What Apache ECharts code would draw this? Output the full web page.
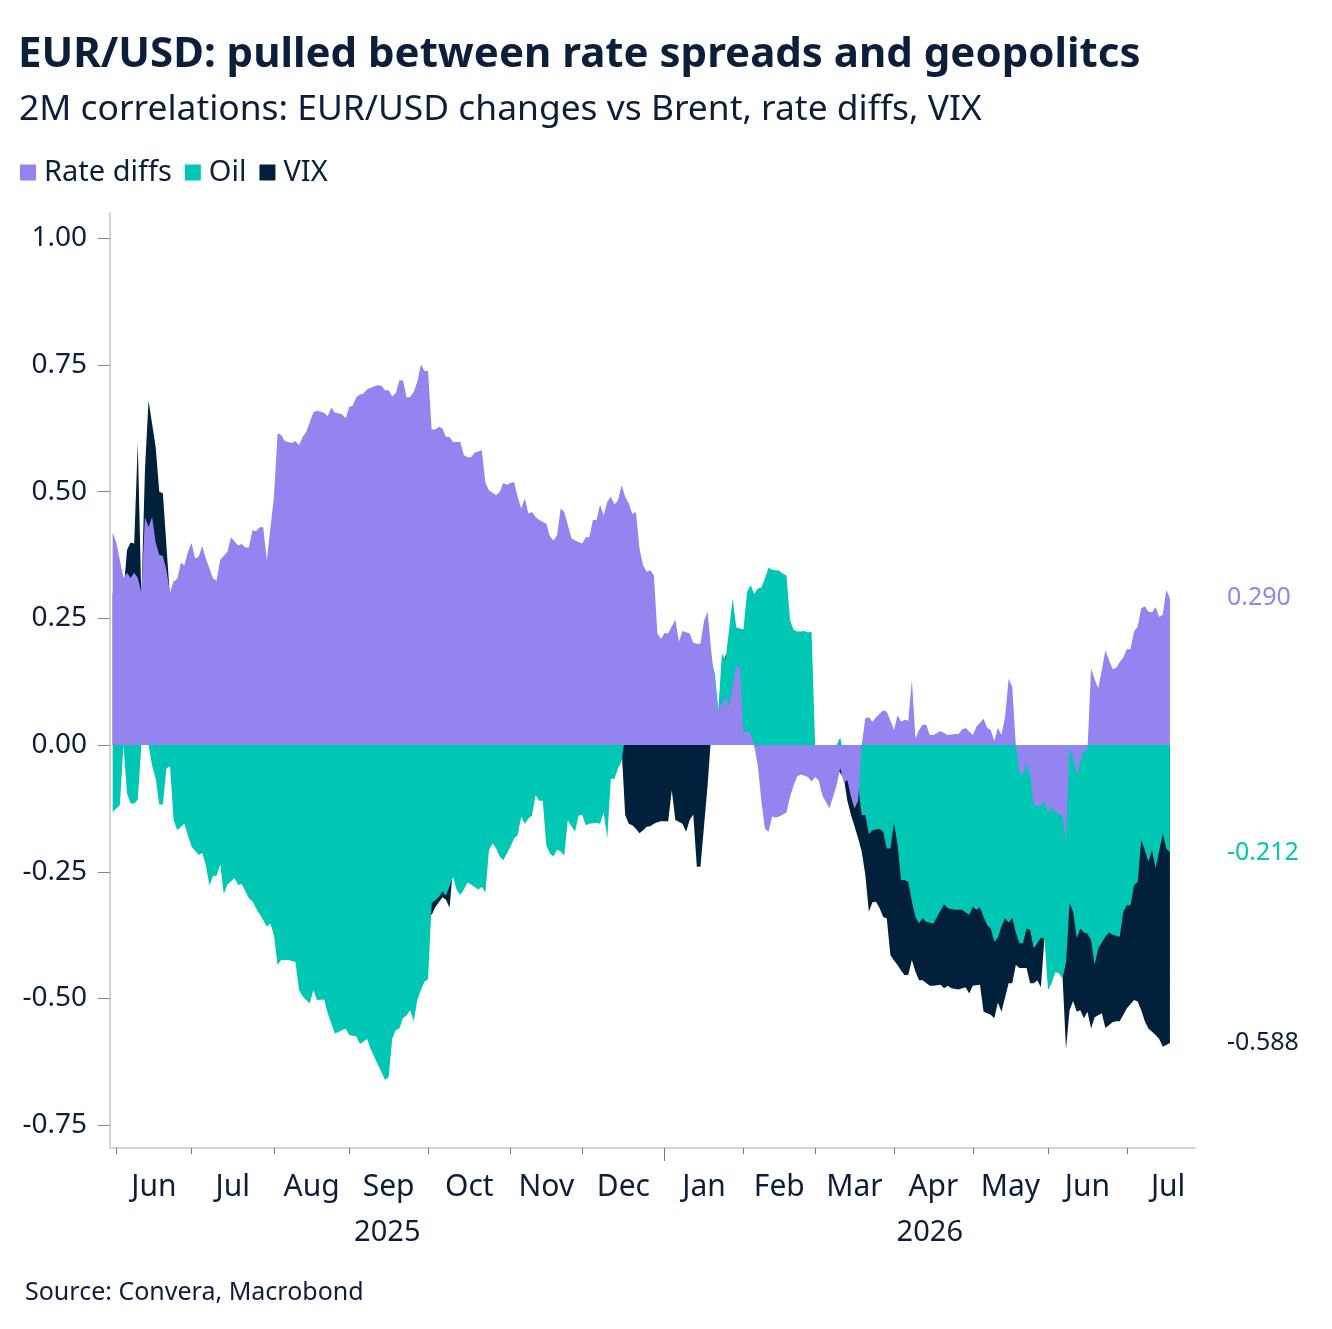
<!DOCTYPE html>
<html>
<head>
<meta charset="utf-8">
<script src="https://cdn.jsdelivr.net/npm/echarts@6/dist/echarts.min.js"></script>
<style>
html,body{margin:0;padding:0;background:#fff}
#main{width:1332px;height:1329px}
</style>
</head>
<body>
<div id="main"></div>
<script>
// x = business days counted from Mon 2 Jun 2025, y = 2M correlation
const rateDiffs = [[-1,.42],[0,.40],[2,.33],[3,.34],[4,.33],[5,.34],[6,.33],[7,.30],[8,.45],[9,.43],[10,.45],[11,.40],[12,.375],[13,.373],[14,.345],[15,.30],[16,.324],[17,.326],[18,.36],[19,.355],[20,.381],[21,.399],[22,.368],[23,.372],[24,.393],[25,.368],[27,.329],[28,.325],[29,.366],[31,.381],[32,.41],[34,.394],[35,.397],[36,.39],[37,.39],[38,.424],[39,.422],[40,.43],[41,.43],[42,.365],[44,.49],[45,.615],[46,.612],[47,.60],[49,.596],[50,.60],[51,.592],[52,.608],[53,.618],[55,.657],[56,.66],[58,.656],[59,.649],[60,.666],[61,.656],[62,.655],[63,.653],[64,.645],[65,.667],[66,.67],[67,.687],[68,.692],[69,.694],[70,.702],[72,.708],[73,.71],[74,.709],[75,.70],[76,.70],[77,.688],[78,.695],[79,.72],[80,.72],[81,.686],[82,.687],[83,.697],[84,.717],[85,.751],[86,.738],[87,.738],[88,.623],[89,.623],[90,.628],[91,.625],[92,.608],[93,.608],[94,.598],[96,.598],[97,.572],[98,.568],[99,.568],[100,.577],[102,.582],[103,.517],[104,.503],[106,.493],[107,.50],[108,.517],[109,.514],[110,.517],[111,.519],[112,.49],[113,.467],[114,.487],[115,.457],[116,.46],[117,.45],[118,.444],[120,.437],[121,.412],[122,.404],[123,.414],[124,.467],[125,.46],[127,.408],[128,.404],[130,.398],[131,.41],[132,.41],[133,.444],[134,.444],[135,.475],[136,.453],[137,.48],[138,.49],[139,.475],[140,.483],[141,.513],[142,.49],[143,.477],[144,.456],[145,.46],[146,.388],[147,.355],[148,.342],[149,.345],[150,.335],[151,.22],[152,.21],[153,.221],[154,.22],[156,.248],[157,.204],[158,.225],[160,.22],[161,.202],[162,.20],[163,.20],[164,.245],[165,.263],[166,.187],[167,.122],[168,.068],[170,.095],[171,.076],[173,.156],[174,.156],[175,.024],[176,.028],[177,.022],[178,0],[179,-.04],[180,-.11],[181,-.165],[182,-.171],[183,-.141],[184,-.143],[185,-.141],[187,-.133],[188,-.102],[189,-.079],[190,-.062],[191,-.058],[193,-.063],[194,-.072],[195,-.063],[196,-.07],[197,-.099],[199,-.125],[200,-.102],[201,-.079],[202,-.045],[203,-.075],[204,-.069],[205,-.102],[206,-.125],[207,-.11],[208,0],[209,.053],[210,.055],[211,.046],[212,.055],[214,.069],[215,.066],[216,.049],[217,.03],[218,.059],[219,.046],[220,.05],[221,.048],[222,.128],[223,.013],[224,.03],[225,.04],[226,.04],[227,.02],[228,.02],[230,.028],[232,.02],[234,.022],[235,.022],[236,.031],[237,.034],[239,.02],[240,.036],[241,.044],[242,.052],[243,.034],[244,.03],[245,.008],[246,.034],[247,.02],[248,.056],[249,.131],[250,.115],[251,0],[252,-.055],[253,-.058],[254,-.036],[255,-.06],[256,-.118],[257,-.121],[258,-.118],[259,-.112],[260,-.135],[261,-.121],[262,-.133],[263,-.135],[264,-.14],[265,-.19],[266,-.005],[267,-.026],[268,-.06],[269,-.033],[270,-.01],[271,-.01],[272,.151],[273,.13],[274,.112],[275,.148],[276,.187],[277,.168],[278,.15],[279,.152],[280,.164],[281,.173],[282,.189],[283,.189],[284,.224],[285,.234],[286,.27],[287,.274],[288,.263],[289,.262],[290,.272],[291,.253],[292,.257],[293,.306],[294,.29]];

const oil = [[-1,-.132],[0,-.125],[1,-.118],[2,0],[3,-.095],[4,-.115],[5,-.115],[6,-.108],[7,0],[8,0],[9,0],[10,-.04],[11,-.066],[12,-.117],[13,-.117],[14,-.046],[15,-.041],[16,-.148],[17,-.168],[19,-.155],[20,-.178],[21,-.20],[23,-.217],[24,-.213],[25,-.237],[26,-.277],[27,-.258],[28,-.258],[29,-.235],[30,-.294],[31,-.275],[33,-.262],[34,-.276],[35,-.274],[37,-.302],[38,-.308],[39,-.322],[41,-.345],[42,-.358],[43,-.352],[44,-.375],[45,-.434],[46,-.424],[48,-.424],[50,-.428],[51,-.483],[52,-.496],[54,-.51],[55,-.483],[56,-.503],[58,-.502],[59,-.529],[61,-.569],[62,-.566],[64,-.559],[65,-.572],[67,-.575],[68,-.59],[69,-.585],[70,-.58],[71,-.60],[72,-.615],[73,-.63],[74,-.645],[75,-.661],[76,-.655],[77,-.579],[78,-.562],[79,-.559],[80,-.539],[81,-.533],[82,-.523],[83,-.545],[84,-.503],[85,-.483],[86,-.467],[87,-.462],[88,-.312],[89,-.306],[90,-.30],[91,-.289],[92,-.297],[94,-.26],[95,-.286],[96,-.296],[97,-.285],[98,-.271],[99,-.275],[101,-.285],[102,-.28],[103,-.291],[104,-.207],[105,-.194],[106,-.204],[107,-.22],[108,-.227],[110,-.20],[111,-.184],[112,-.178],[113,-.141],[114,-.155],[115,-.145],[116,-.139],[117,-.099],[118,-.11],[119,-.11],[120,-.197],[121,-.214],[122,-.22],[123,-.206],[124,-.21],[125,-.218],[126,-.148],[127,-.16],[128,-.171],[129,-.139],[130,-.137],[131,-.158],[132,-.155],[134,-.153],[135,-.155],[136,-.133],[137,-.184],[138,-.066],[139,-.067],[140,-.046],[141,-.032],[142,.02],[145,.05],[150,.08],[155,.10],[160,.12],[164,.15],[166,.168],[167,.142],[168,.07],[169,.181],[170,.168],[172,.289],[173,.232],[174,.23],[175,.228],[176,.302],[177,.316],[178,.298],[179,.309],[180,.311],[181,.329],[182,.35],[183,.346],[184,.345],[185,.344],[186,.338],[187,.335],[188,.247],[189,.227],[190,.224],[191,.224],[192,.225],[193,.222],[194,.224],[195,0],[196,-.02],[198,-.03],[200,-.02],[201,0],[202,.015],[203,-.02],[205,-.04],[207,-.08],[208,-.138],[209,-.138],[210,-.176],[211,-.168],[213,-.165],[214,-.171],[215,-.204],[216,-.204],[217,-.153],[218,-.197],[219,-.266],[220,-.266],[221,-.27],[222,-.309],[223,-.339],[224,-.352],[225,-.341],[226,-.349],[228,-.352],[229,-.339],[231,-.314],[232,-.322],[234,-.325],[236,-.325],[238,-.335],[239,-.319],[240,-.325],[241,-.32],[242,-.339],[243,-.355],[244,-.362],[245,-.388],[246,-.38],[247,-.358],[248,-.342],[249,-.35],[250,-.341],[251,-.37],[252,-.391],[253,-.391],[254,-.362],[255,-.365],[256,-.401],[257,-.391],[258,-.38],[259,-.382],[260,-.483],[261,-.47],[262,-.448],[263,-.45],[264,-.46],[265,-.43],[266,-.312],[267,-.329],[268,-.381],[269,-.362],[270,-.37],[271,-.372],[272,-.385],[273,-.434],[274,-.401],[276,-.378],[277,-.37],[278,-.374],[280,-.378],[281,-.329],[282,-.316],[283,-.316],[284,-.276],[285,-.27],[286,-.187],[287,-.207],[288,-.23],[289,-.207],[290,-.243],[291,-.21],[292,-.174],[293,-.204],[294,-.212]];

const vix = [[-1,.30],[0,.30],[2,.30],[3,.385],[4,.40],[5,.398],[6,.596],[7,.29],[8,.542],[9,.68],[11,.588],[12,.50],[13,.497],[15,.29],[17,.33],[19,.25],[25,.20],[35,.10],[45,0],[55,-.10],[65,-.20],[75,-.25],[85,-.30],[88,-.335],[89,-.32],[90,-.31],[91,-.30],[92,-.305],[93,-.321],[94,-.24],[97,-.20],[103,-.15],[110,-.10],[120,-.05],[130,-.05],[137,-.03],[140,-.02],[141,-.005],[142,-.138],[143,-.155],[144,-.158],[145,-.165],[146,-.174],[147,-.168],[148,-.161],[149,-.16],[150,-.155],[151,-.152],[152,-.15],[154,-.15],[155,-.089],[156,-.148],[158,-.155],[159,-.171],[160,-.148],[161,-.137],[162,-.24],[163,-.24],[164,-.16],[165,-.079],[166,.02],[168,.05],[170,.18],[172,.10],[175,.05],[178,0],[179,-.02],[185,-.04],[195,-.03],[200,-.04],[202,-.055],[203,-.065],[204,-.11],[205,-.138],[206,-.16],[207,-.184],[208,-.21],[209,-.256],[210,-.329],[211,-.31],[212,-.309],[213,-.322],[214,-.339],[215,-.342],[216,-.414],[217,-.425],[218,-.434],[219,-.445],[220,-.454],[221,-.453],[222,-.424],[223,-.447],[224,-.464],[225,-.464],[227,-.475],[228,-.475],[230,-.473],[231,-.48],[232,-.475],[233,-.48],[235,-.482],[237,-.478],[238,-.49],[239,-.475],[241,-.473],[242,-.526],[244,-.532],[245,-.539],[246,-.508],[247,-.526],[249,-.47],[250,-.47],[251,-.434],[252,-.44],[254,-.44],[255,-.47],[256,-.47],[257,-.464],[258,-.478],[259,-.38],[261,-.40],[263,-.42],[264,-.45],[265,-.60],[266,-.523],[267,-.505],[268,-.526],[269,-.523],[270,-.539],[271,-.526],[272,-.559],[273,-.537],[275,-.529],[276,-.558],[278,-.547],[279,-.545],[280,-.545],[282,-.519],[284,-.503],[285,-.506],[286,-.523],[287,-.545],[288,-.559],[290,-.572],[291,-.58],[292,-.595],[293,-.592],[294,-.588]];

const monthNames = ['Jun','Jul','Aug','Sep','Oct','Nov','Dec','Jan','Feb','Mar','Apr','May','Jun','Jul'];
const yearNames = ['2025','2026'];
const yTicks = [-0.75, -0.5, -0.25, 0, 0.25, 0.5, 0.75, 1];

const navy = '#0b1f3b';
const purple = '#9384f0';
const teal = '#00c6b4';
const dark = '#00203b';
const font = 'Noto Sans';

// business-day index of the first trading day of each month
const monthStarts = [];
(function () {
  let t = Date.UTC(2025, 5, 2), n = 0, m = -1;
  const end = Date.UTC(2026, 7, 5);
  while (t < end) {
    const d = new Date(t);
    const wd = d.getUTCDay();
    if (wd !== 0 && wd !== 6) {
      if (d.getUTCMonth() !== m) { monthStarts.push(n); m = d.getUTCMonth(); }
      n++;
    }
    t += 86400000;
  }
})();

const xMin = -1.75, xMax = 301;
const tickPos = monthStarts.slice(0, 14);
const labelPos = [];
for (let i = 0; i < 14; i++) labelPos.push((monthStarts[i] + monthStarts[i + 1]) / 2);
const yearStart = monthStarts[7];
const yearPos = [(xMin + yearStart) / 2, (yearStart + xMax) / 2];

function area(name, data, color, z) {
  return {
    name: name,
    type: 'line',
    data: data,
    z: z,
    color: color,
    symbol: 'none',
    showSymbol: false,
    lineStyle: { width: 0, color: color },
    itemStyle: { color: color },
    areaStyle: { color: color, opacity: 1 },
    endLabel: {
      show: true,
      distance: 57,
      color: color === dark ? navy : color,
      fontFamily: font,
      fontSize: 25,
      formatter: p => p.value[1].toFixed(3)
    }
  };
}

const chart = echarts.init(document.getElementById('main'));
chart.setOption({
  animation: false,
  backgroundColor: '#ffffff',
  textStyle: { fontFamily: font, color: navy },
  title: [
    { text: 'EUR/USD: pulled between rate spreads and geopolitcs', left: 13, top: 28,
      textStyle: { fontFamily: font, fontSize: 42, fontWeight: 'bold', color: navy, lineHeight: 44 } },
    { text: '2M correlations: EUR/USD changes vs Brent, rate diffs, VIX', left: 14, top: 86,
      textStyle: { fontFamily: font, fontSize: 35.4, fontWeight: 'normal', color: navy, lineHeight: 38 } },
    { text: 'Source: Convera, Macrobond', left: 20, top: 1274,
      textStyle: { fontFamily: font, fontSize: 25, fontWeight: 'normal', color: navy, lineHeight: 28 } }
  ],
  legend: {
    data: ['Rate diffs', 'Oil', 'VIX'],
    left: 20, top: 158, padding: 0,
    icon: 'rect', itemWidth: 16, itemHeight: 16, itemGap: 13,
    textStyle: { fontFamily: font, fontSize: 29, color: navy, padding: [0, 0, 0, 3] }
  },
  grid: { left: 110, right: 137, top: 213, bottom: 181, containLabel: false },
  xAxis: [
    {
      type: 'value', min: xMin, max: xMax,
      splitLine: { show: false },
      axisLine: { show: true, onZero: false, lineStyle: { color: '#d4d4d4', width: 2 } },
      axisTick: { show: true, customValues: tickPos, length: 6, lineStyle: { color: '#777' } },
      axisLabel: {
        customValues: labelPos, margin: 24, fontSize: 30, color: navy, fontFamily: font,
        formatter: v => monthNames[labelPos.indexOf(v)] || ''
      }
    },
    {
      type: 'value', min: xMin, max: xMax, position: 'bottom',
      splitLine: { show: false },
      axisLine: { show: false, onZero: false },
      axisTick: { show: true, customValues: [yearStart], length: 13, lineStyle: { color: '#777' } },
      axisLabel: {
        customValues: yearPos, margin: 70, fontSize: 29, color: navy, fontFamily: font,
        formatter: v => v < yearStart ? yearNames[0] : yearNames[1]
      }
    }
  ],
  yAxis: {
    type: 'value', min: -0.795, max: 1.05,
    splitLine: { show: false },
    axisLine: { show: true, onZero: false, lineStyle: { color: '#d4d4d4', width: 2 } },
    axisTick: { show: true, customValues: yTicks, length: 12, lineStyle: { color: '#888' } },
    axisLabel: {
      customValues: yTicks, margin: 23, fontSize: 28, color: navy, fontFamily: font,
      formatter: v => v.toFixed(2)
    }
  },
  series: [
    area('VIX', vix, dark, 1),
    area('Oil', oil, teal, 2),
    area('Rate diffs', rateDiffs, purple, 3)
  ]
});
</script>
</body>
</html>
